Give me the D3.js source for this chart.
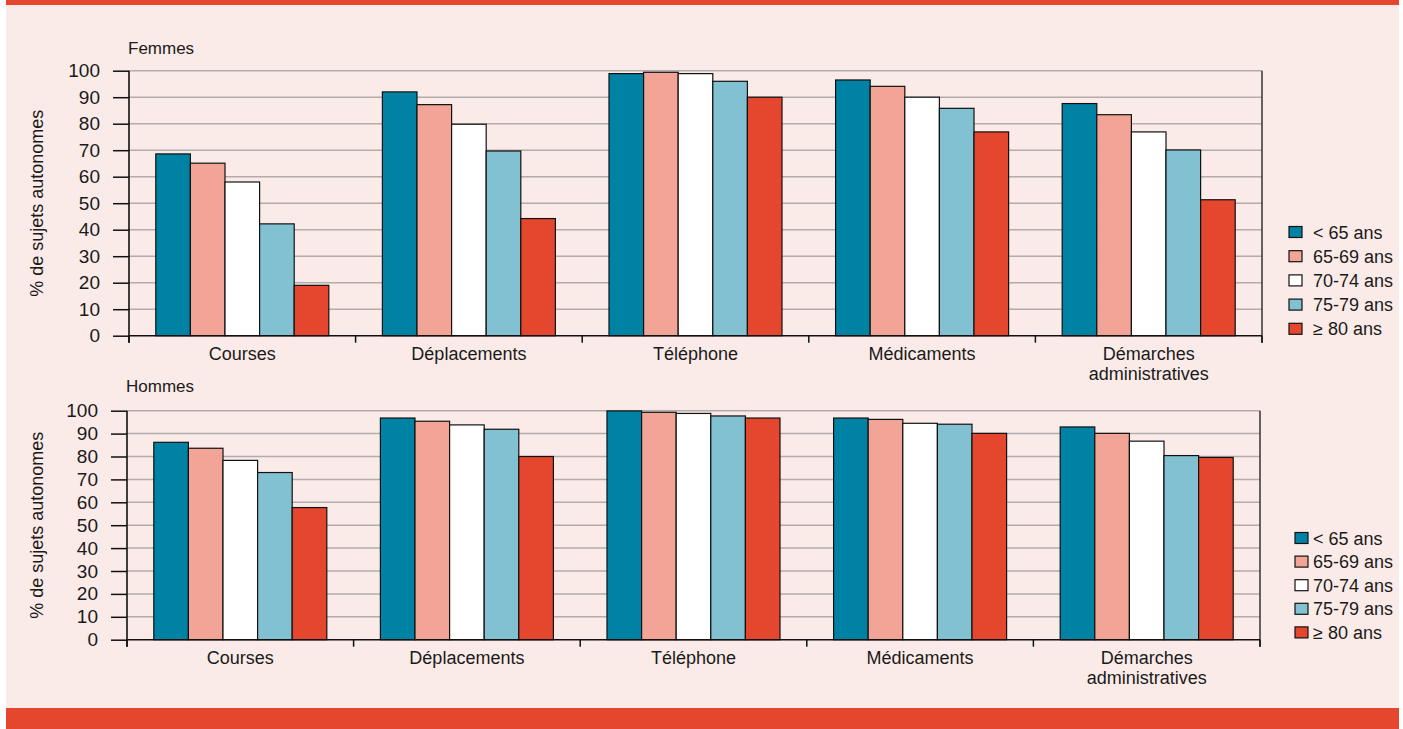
<!DOCTYPE html>
<html>
<head>
<meta charset="utf-8">
<script src="https://cdn.jsdelivr.net/npm/d3@7"></script>
<style>
  html, body { margin: 0; padding: 0; background: #ffffff; }
  svg { display: block; }
  text { font-family: "Liberation Sans", Arial, sans-serif; fill: #1a1a1a; }
</style>
</head>
<body>
<svg id="chart" width="1403" height="729"></svg>
<script>
const categories = ["Courses", "Déplacements", "Téléphone", "Médicaments", "Démarches\nadministratives"];
const series = ["< 65 ans", "65-69 ans", "70-74 ans", "75-79 ans", "≥ 80 ans"];
const colors = ["#0082a4", "#f2a596", "#ffffff", "#82c1d1", "#e4472d"];
const yTicks = [0, 10, 20, 30, 40, 50, 60, 70, 80, 90, 100];

// Femmes: values per category, ordered by series
const femmes_lt65  = [68.6, 92.0, 98.9, 96.5, 87.6];
const femmes_65_69 = [65.1, 87.2, 99.4, 94.1, 83.4];
const femmes_70_74 = [58.0, 79.8, 98.9, 90.0, 76.9];
const femmes_75_79 = [42.2, 69.7, 96.0, 85.8, 70.1];
const femmes_ge80  = [19.0, 44.2, 90.0, 76.9, 51.3];

// Hommes
const hommes_lt65  = [86.2, 96.8, 99.9, 96.8, 92.9];
const hommes_65_69 = [83.6, 95.4, 99.3, 96.2, 90.1];
const hommes_70_74 = [78.3, 93.8, 98.8, 94.5, 86.7];
const hommes_75_79 = [73.0, 91.9, 97.7, 94.1, 80.4];
const hommes_ge80  = [57.7, 80.0, 96.8, 90.1, 79.6];

const femmes = [femmes_lt65, femmes_65_69, femmes_70_74, femmes_75_79, femmes_ge80];
const hommes = [hommes_lt65, hommes_65_69, hommes_70_74, hommes_75_79, hommes_ge80];

const svg = d3.select("#chart");

// background panel and bands
svg.append("rect").attr("x", 6).attr("y", 0).attr("width", 1393).attr("height", 729).attr("fill", "#fbebe8");
svg.append("rect").attr("x", 6).attr("y", 0).attr("width", 1393).attr("height", 5).attr("fill", "#e4472d");
svg.append("rect").attr("x", 6).attr("y", 708).attr("width", 1393).attr("height", 21).attr("fill", "#e4472d");

function panel(cfg) {
  const g = svg.append("g");
  const x0 = d3.scaleBand().domain(categories).range([cfg.left, cfg.right])
    .paddingInner(0.2365).paddingOuter(0.2365 / 2);
  const x1 = d3.scaleBand().domain(series).range([0, x0.bandwidth()]).padding(0);
  const y = d3.scaleLinear().domain([0, 100]).range([cfg.bottom, cfg.top]);

  // gridlines
  g.append("g").selectAll("line").data(yTicks.filter(d => d > 0)).join("line")
    .attr("x1", cfg.left).attr("x2", cfg.right)
    .attr("y1", d => y(d)).attr("y2", d => y(d))
    .attr("stroke", "#b3acaa").attr("stroke-width", 1.5);

  // bars
  const rows = [];
  categories.forEach((c, ci) => series.forEach((s, si) => rows.push({c, s, si, v: cfg.data[si][ci]})));
  g.append("g").selectAll("rect").data(rows).join("rect")
    .attr("x", d => x0(d.c) + x1(d.s))
    .attr("y", d => y(d.v))
    .attr("width", x1.bandwidth())
    .attr("height", d => y(0) - y(d.v))
    .attr("fill", d => colors[d.si])
    .attr("stroke", "#111").attr("stroke-width", 1.2);

  // left y axis
  const yAxis = d3.axisLeft(y).tickValues(yTicks).tickSize(16).tickPadding(13);
  const ya = g.append("g").attr("transform", `translate(${cfg.left},0)`).call(yAxis);
  ya.select(".domain").remove();
  ya.selectAll(".tick line").attr("stroke", "#111").attr("stroke-width", 1.5);
  ya.selectAll(".tick text").style("font-size", "19px").style("font-family", "Liberation Sans, Arial, sans-serif").attr("fill", "#1a1a1a");
  g.append("line").attr("x1", cfg.left).attr("x2", cfg.left)
    .attr("y1", y(100)).attr("y2", y(0) + 7).attr("stroke", "#111").attr("stroke-width", 1.6);

  // right line
  g.append("line").attr("x1", cfg.right).attr("x2", cfg.right)
    .attr("y1", y(100)).attr("y2", y(0) + 7).attr("stroke", "#333").attr("stroke-width", 1.5);

  // x baseline and category boundary ticks
  g.append("line").attr("x1", cfg.left).attr("x2", cfg.right)
    .attr("y1", y(0)).attr("y2", y(0)).attr("stroke", "#111").attr("stroke-width", 1.6);
  const bounds = d3.range(categories.length + 1).map(i => cfg.left + i * x0.step());
  g.append("g").selectAll("line").data(bounds).join("line")
    .attr("x1", d => d).attr("x2", d => d)
    .attr("y1", y(0)).attr("y2", y(0) + 7)
    .attr("stroke", "#111").attr("stroke-width", 1.5);

  // category labels
  const lab = g.append("g").selectAll("text").data(categories).join("text")
    .attr("x", d => x0(d) + x0.bandwidth() / 2)
    .attr("y", y(0) + 24)
    .attr("text-anchor", "middle")
    .style("font-size", "18px");
  lab.each(function(d) {
    const t = d3.select(this);
    d.split("\n").forEach((line, i) => {
      t.append("tspan").attr("x", x0(d) + x0.bandwidth() / 2).attr("dy", i === 0 ? 0 : 20).text(line);
    });
  });

  // panel title
  g.append("text").attr("x", cfg.left - 1).attr("y", cfg.titleY)
    .style("font-size", "17px").text(cfg.title);

  // y axis title
  g.append("text")
    .attr("transform", `translate(43,${(y(0) + y(100)) / 2}) rotate(-90)`)
    .attr("text-anchor", "middle")
    .style("font-size", "18px")
    .text("% de sujets autonomes");

  // legend
  const lg = g.append("g").selectAll("g").data(series).join("g")
    .attr("transform", (d, i) => `translate(${cfg.legX},${cfg.legY + i * cfg.legStep})`);
  lg.append("rect").attr("x", 0).attr("y", -5.5).attr("width", 13).attr("height", 11)
    .attr("fill", (d, i) => colors[i]).attr("stroke", "#111").attr("stroke-width", 1.2);
  lg.append("text").attr("x", cfg.legTextX - cfg.legX).attr("y", 6.5)
    .style("font-size", "18px").text(d => d);
}

panel({
  data: femmes, title: "Femmes", titleY: 54,
  left: 129, right: 1262, top: 70.7, bottom: 335.7,
  legX: 1289, legTextX: 1313, legY: 232, legStep: 24.2
});
panel({
  data: hommes, title: "Hommes", titleY: 392,
  left: 127, right: 1260, top: 410.7, bottom: 639.7,
  legX: 1295, legTextX: 1313, legY: 538, legStep: 23.6
});
</script>
</body>
</html>
